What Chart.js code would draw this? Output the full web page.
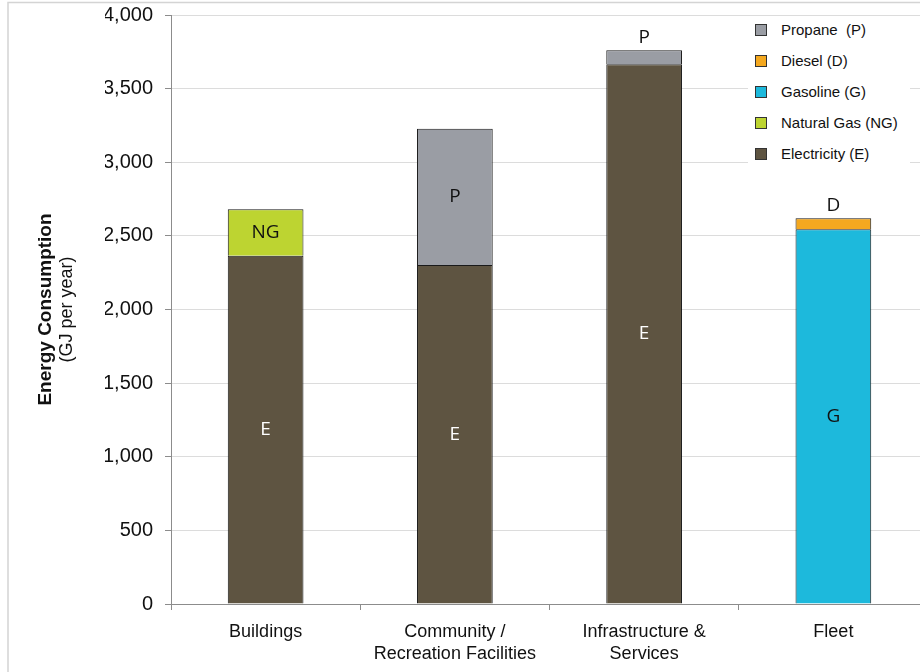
<!DOCTYPE html>
<html>
<head>
<meta charset="utf-8">
<script src="https://cdn.jsdelivr.net/npm/chart.js@4"></script>
<style>
  body { margin: 0; background: #fff; overflow: hidden; }
  .wrap { position: relative; width: 920px; height: 672px; overflow: hidden; }
  .legend {
    position: absolute; left: 748px; top: 16px; width: 162px; height: 156px;
    background: #fff; font-family: "Liberation Sans", Arial, sans-serif; font-size: 15px; color: #111;
  }
  .legend div { position: absolute; left: 7px; height: 20px; line-height: 20px; white-space: pre; }
  .legend span {
    display: inline-block; width: 10px; height: 10px; border: 1px solid #333;
    margin-right: 14px; vertical-align: -1px;
  }
</style>
</head>
<body>
<div class="wrap">
  <canvas id="chart" width="940" height="672"></canvas>
  <div class="legend" id="legend"></div>
</div>
<script>
const categories = [["Buildings"], ["Community /", "Recreation Facilities"], ["Infrastructure &", "Services"], ["Fleet"]];
const electricity = [2365, 2302, 3665, null];
const naturalGas = [315, null, null, null];
const gasoline = [null, null, null, 2545];
const diesel = [null, null, null, 75];
const propane = [null, 926, 95, null];
const yTicks = [0, 500, 1000, 1500, 2000, 2500, 3000, 3500, 4000];

const datasets = [
  { label: "Electricity (E)", code: "E", data: electricity, backgroundColor: "#5e5441", textColor: "#fff" },
  { label: "Natural Gas (NG)", code: "NG", data: naturalGas, backgroundColor: "#bdd431", textColor: "#111" },
  { label: "Gasoline (G)", code: "G", data: gasoline, backgroundColor: "#1db9dc", textColor: "#111" },
  { label: "Diesel (D)", code: "D", data: diesel, backgroundColor: "#f4a81f", textColor: "#111" },
  { label: "Propane  (P)", code: "P", data: propane, backgroundColor: "#9a9da4", textColor: "#111" }
];
datasets.forEach(ds => {
  ds.borderColor = "#1a1a1a";
  ds.borderWidth = 1;
  ds.barPercentage = 0.4;
  ds.categoryPercentage = 1;
});

// light outer frame, runs off the right and bottom edges
const frame = {
  id: "frame",
  beforeDraw(chart) {
    const ctx = chart.ctx;
    ctx.save();
    ctx.strokeStyle = "#d4d4d4";
    ctx.lineWidth = 1.5;
    ctx.strokeRect(8, 2.5, 1000, 1000);
    ctx.restore();
  }
};

// rotated two-part axis title
const yTitle = {
  id: "yTitle",
  afterDraw(chart) {
    const ctx = chart.ctx;
    const area = chart.chartArea;
    const cy = (area.top + area.bottom) / 2;
    ctx.save();
    ctx.translate(46, cy);
    ctx.rotate(-Math.PI / 2);
    ctx.textAlign = "center";
    ctx.textBaseline = "middle";
    ctx.fillStyle = "#111";
    ctx.font = "bold 19px 'Liberation Sans', Arial, sans-serif";
    ctx.fillText("Energy Consumption", 0, 0);
    ctx.font = "18px 'Liberation Sans', Arial, sans-serif";
    ctx.fillText("(GJ per year)", 0, 21);
    ctx.restore();
  }
};

// fuel codes inside each segment, or above it when the segment is thin
const segLabels = {
  id: "segLabels",
  afterDatasetsDraw(chart) {
    const ctx = chart.ctx;
    ctx.save();
    ctx.textAlign = "center";
    ctx.textBaseline = "middle";
    ctx.font = "19px 'Open Sans', sans-serif";
    chart.data.datasets.forEach((ds, i) => {
      chart.getDatasetMeta(i).data.forEach((bar, j) => {
        const v = ds.data[j];
        if (v == null) return;
        if (v < 150) {
          ctx.fillStyle = "#111";
          ctx.fillText(ds.code, bar.x, bar.y - 13);
        } else {
          ctx.fillStyle = ds.textColor;
          ctx.fillText(ds.code, bar.x, (bar.y + bar.base) / 2);
        }
      });
    });
    ctx.restore();
  }
};

const chart = new Chart(document.getElementById("chart"), {
  type: "bar",
  data: { labels: categories, datasets: datasets },
  options: {
    responsive: false,
    animation: false,
    devicePixelRatio: 1,
    layout: { padding: { left: 105, right: 12, top: 15, bottom: 0 } },
    plugins: { legend: { display: false }, tooltip: { enabled: false } },
    scales: {
      x: {
        stacked: true,
        afterFit(scale) { scale.height = 68; },
        grid: { drawOnChartArea: false, offset: true, tickLength: 6, color: "#8c8c8c" },
        border: { color: "#8c8c8c" },
        ticks: {
          padding: 11,
          color: "#111",
          font: { family: "'Liberation Sans', Arial, sans-serif", size: 18, lineHeight: 1.22 }
        }
      },
      y: {
        stacked: true,
        min: 0,
        max: 4000,
        afterFit(scale) {
          scale.width = 66;
          scale.paddingTop = 0;
          scale.paddingBottom = 0;
        },
        afterBuildTicks(scale) { scale.ticks = yTicks.map(v => ({ value: v })); },
        grid: { color: "#dcdcdc", tickColor: "#8c8c8c", tickLength: 6 },
        border: { color: "#8c8c8c" },
        ticks: {
          padding: 12,
          color: "#111",
          font: { family: "'Liberation Sans', Arial, sans-serif", size: 20 },
          callback: v => v.toLocaleString("en-US")
        }
      }
    }
  },
  plugins: [frame, yTitle, segLabels]
});

// legend, top entry is the top of the stack
const legend = document.getElementById("legend");
datasets.slice().reverse().forEach((ds, k) => {
  const item = document.createElement("div");
  item.style.top = (4 + k * 31) + "px";
  const box = document.createElement("span");
  box.style.background = ds.backgroundColor;
  item.appendChild(box);
  item.appendChild(document.createTextNode(ds.label));
  legend.appendChild(item);
});
</script>
</body>
</html>
